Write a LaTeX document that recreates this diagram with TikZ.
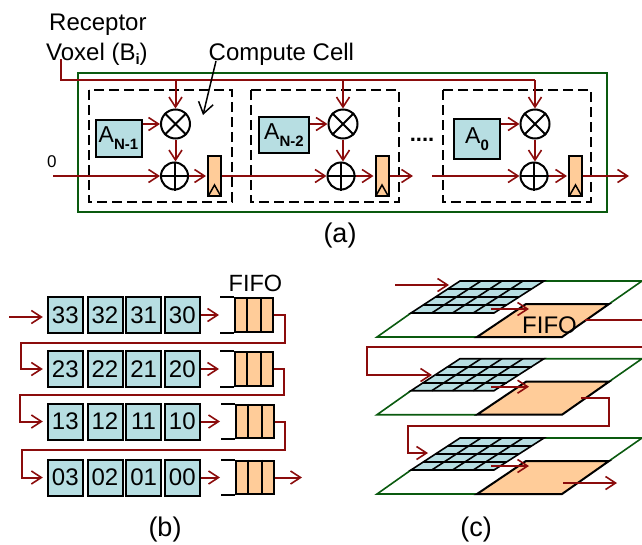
\documentclass[tikz,border=0pt]{standalone}
\usepackage{fontspec}
\setmainfont{Liberation Sans}
\usetikzlibrary{arrows.meta,calc}
\definecolor{wirered}{RGB}{139,12,12}
\definecolor{framegreen}{RGB}{10,90,15}
\definecolor{cellblue}{RGB}{183,222,226}
\definecolor{regorange}{RGB}{255,204,153}
\newcommand{\fs}[1]{\fontsize{#1}{#1}\selectfont}
\tikzset{
  wire/.style={draw=wirered,line width=2pt},
  arr/.style={wire,-{Straight Barb[length=10pt,width=13pt,line width=1.6pt]}},
  gapend/.style={shorten >=4pt},
  outerframe/.style={draw=framegreen,line width=2pt},
  cellframe/.style={draw=black,line width=2pt,dash pattern=on 10pt off 5pt},
  coef/.style={draw=black,fill=cellblue,line width=2pt,inner sep=0pt,font=\fs{23}},
  opcirc/.style={circle,draw=black,line width=2pt,fill=white,inner sep=0pt},
  regbox/.style={draw=black,fill=regorange,line width=2pt,minimum width=13pt,minimum height=40pt,inner sep=0pt},
  numbox/.style={draw=black,fill=cellblue,line width=2pt,minimum width=35pt,minimum height=36pt,inner sep=0pt,font=\fs{24}},
  fifobox/.style={draw=black,fill=regorange,line width=2pt,minimum width=38pt,minimum height=33.5pt,inner sep=0pt},
  lbl/.style={inner sep=0pt,anchor=base west,font=\fs{24}},
  captxt/.style={inner sep=0pt,font=\fs{27}},
  sheet/.style={draw=framegreen,line width=1.6pt},
  blk/.style={draw=black,line width=2pt}
}
\begin{document}
\begin{tikzpicture}[x=1pt,y=-1pt]
\useasboundingbox (0,0) rectangle (642,544);
% ---------- (a)
\draw[outerframe] (77.5,73) rectangle (607,212);
\draw[cellframe] (89,90) rectangle (232,202);
\draw[cellframe] (251,90) rectangle (399,202);
\draw[cellframe] (443,90) rectangle (591,202);
\node[lbl] (rec) at (49,30) {Receptor};
\node[lbl] (vox) at (46,60) {Voxel (B\raisebox{-4pt}{\fs{15}\bfseries i})};
\node[lbl] (cc) at (208.5,60) {Compute Cell};
\node[inner sep=0pt,anchor=base west,font=\fs{17}] (zero) at (47,167) {0};
\node[captxt] (capa) at (340,236) {(a)};
\node[inner sep=0pt,font=\fs{22}\bfseries] (dots) at (422,140) {....};
\node[coef,minimum width=46pt,minimum height=37pt] (A1) at (118.5,138.5) {A\raisebox{-7pt}{\fs{15}\bfseries N-1}};
\node[coef,minimum width=50pt,minimum height=36pt] (A2) at (284,135) {A\raisebox{-7pt}{\fs{15}\bfseries N-2}};
\node[coef,minimum width=46pt,minimum height=40pt] (A3) at (477,139) {A\raisebox{-7pt}{\fs{15}\bfseries 0}};
\node[opcirc,minimum size=29pt] (m1) at (175.5,124) {};
\node[opcirc,minimum size=29pt] (m2) at (343,124) {};
\node[opcirc,minimum size=29pt] (m3) at (535,124) {};
\node[opcirc,minimum size=27pt] (s1) at (174.5,176) {};
\node[opcirc,minimum size=27pt] (s2) at (341,176) {};
\node[opcirc,minimum size=27pt] (s3) at (534,176) {};
\node[regbox] (r1) at (214.5,175.5) {};
\node[regbox] (r2) at (382,175.5) {};
\node[regbox] (r3) at (575.5,175.5) {};
\foreach \n in {m1,m2,m3}{
  \draw[blk] (\n.north west) -- (\n.south east) (\n.north east) -- (\n.south west);}
\foreach \n in {s1,s2,s3}{
  \draw[blk] (\n.north) -- (\n.south) (\n.west) -- (\n.east);}
\foreach \n in {r1,r2,r3}{
  \draw[blk,line width=1.5pt] ($(\n.south west)+(1,0)$) -- ($(\n.south)+(0,-11.5)$) -- ($(\n.south east)+(-1,0)$);}
\coordinate (bstart) at (61,59);
\coordinate (bus) at (61,80);
\draw[wire] (bstart) -- (bus) -- (bus -| m3.north);
\foreach \n in {m1,m2,m3}{\draw[arr] (bus -| \n.north) -- (\n.north);}
\foreach \a/\n/\s in {A1/m1/s1,A2/m2/s2,A3/m3/s3}{
  \draw[arr] (\a.east |- \n.west) -- (\n.west);
  \draw[arr] (\n.south) -- (\n.south |- \s.north);
}
\foreach \s/\r in {s1/r1,s2/r2,s3/r3}{\draw[arr,shorten >=1pt] (\s.east) -- (\s.east -| \r.west);}
\coordinate (in0) at (53,176);
\coordinate (o2) at (413,176);
\coordinate (i3) at (432,176);
\coordinate (o3) at (629,176);
\draw[arr] (in0) -- (s1.west);
\draw[arr] (r1.east |- s1.east) -- (s2.west);
\draw[arr] (r2.east |- o2) -- (o2);
\draw[arr] (i3) -- (s3.west);
\draw[arr] (r3.east |- o3) -- (o3);
\coordinate (ccfrom) at (216,61);
\coordinate (ccto) at (203,115);
\draw[black,line width=1.5pt,-{Straight Barb[length=11pt,width=15pt,line width=1.5pt]}] (ccfrom) -- (ccto);
% ---------- (b)
\node[inner sep=0pt,anchor=base west,font=\fs{23.5}] (fifolbl) at (228.5,291) {FIFO};
\node[captxt] (capb) at (165,530) {(b)};
\foreach \r/\y/\fx in {3/315/254,2/369/254,1/421.5/255,0/477.5/255}{
  \foreach \c/\x in {3/65.3,2/105,1/143.6,0/182.3}{
    \node[numbox] (c\r\c) at (\x,\y) {\r\c};
  }
  \node[fifobox] (f\r) at (\fx,\y) {};
  \draw[blk] (f\r.north west) -- ++(-14,0) (f\r.south west) -- ++(-14,0);
  \draw[blk] ($(f\r.north west)!1/3!(f\r.north east)$) -- ($(f\r.south west)!1/3!(f\r.south east)$);
  \draw[blk] ($(f\r.north west)!2/3!(f\r.north east)$) -- ($(f\r.south west)!2/3!(f\r.south east)$);
  \coordinate (mouth\r) at ($(f\r.west)+(-15,0)$);
  \draw[arr] (c\r0.east) -- (mouth\r);
}
\coordinate (inb) at (9,317);
\draw[arr,gapend] (inb) -- (inb -| c33.west);
\coordinate (t3r) at (285,343);
\coordinate (t3l) at (21,343);
\coordinate (t2r) at (284,395);
\coordinate (t2l) at (20,395);
\coordinate (t1r) at (285,450);
\coordinate (t1l) at (22,450);
\draw[arr,gapend] (f3.east) -| (t3r) -- (t3l) |- (c23.west);
\draw[arr,gapend] (f2.east) -| (t2r) -- (t2l) |- (c13.west);
\draw[arr,gapend] (f1.east) -| (t1r) -- (t1l) |- (c03.west);
\coordinate (outb) at (302,477.5);
\draw[arr] (f0.east) -- (outb);
% ---------- (c)
\foreach \k/\d in {1/0,2/77.7,3/157}{
  \begin{scope}[shift={(0,\d)}]
    \coordinate (gtl\k) at (460,281);
    \coordinate (gtr\k) at (544,281);
    \coordinate (gbr\k) at (494,313);
    \coordinate (gbl\k) at (411,313);
    \coordinate (ftl\k) at (526,304);
    \coordinate (ftr\k) at (609,304);
    \coordinate (fbr\k) at (562,337);
    \coordinate (fbl\k) at (477,337);
    \coordinate (str\k) at (642,281);
    \coordinate (sbl\k) at (377,337);
  \end{scope}
  \draw[sheet] (gtr\k) -- (str\k) -- (ftr\k);
  \draw[sheet] (fbl\k) -- (sbl\k) -- (gbl\k);
  \draw[blk,fill=regorange] (ftl\k) -- (ftr\k) -- (fbr\k) -- (fbl\k) -- cycle;
  \draw[blk,line width=1.6pt,fill=cellblue] (gtl\k) -- (gtr\k) -- (gbr\k) -- (gbl\k) -- cycle;
  \foreach \t in {0.25,0.5,0.75}{
    \draw[blk,line width=1.6pt] ($(gtl\k)!\t!(gtr\k)$) -- ($(gbl\k)!\t!(gbr\k)$);
    \draw[blk,line width=1.6pt] ($(gtl\k)!\t!(gbl\k)$) -- ($(gtr\k)!\t!(gbr\k)$);
  }
  \coordinate (gout\k) at ($(gbr\k)+(-3,-4)$);
  \coordinate (fin\k) at ($(gout\k)+(38,0)$);
  \draw[arr] (gout\k) -- (fin\k);
}
\node[inner sep=0pt,anchor=base west,font=\fs{24}] (fifoc) at (522,333) {FIFO};
\node[captxt] (capc) at (476,530) {(c)};
\coordinate (i1) at (395,285);
\coordinate (i1e) at (449,285);
\draw[arr] (i1) -- (i1e);
\coordinate (o1) at (585,320);
\coordinate (o1r) at (642,320);
\draw[wire] (o1) -- (o1r);
\coordinate (w1r) at (642,347);
\coordinate (w1l) at (367,347);
\coordinate (w1d) at (367,375);
\coordinate (w1e) at (432,375);
\draw[arr] (w1r) -- (w1l) -- (w1d) -- (w1e);
\coordinate (o2c) at (581,398);
\coordinate (w2a) at (609,398);
\coordinate (w2b) at (609,426);
\coordinate (w2c) at (408,426);
\coordinate (w2d) at (408,453);
\coordinate (w2e) at (428,453);
\draw[arr] (o2c) -- (w2a) -- (w2b) -- (w2c) -- (w2d) -- (w2e);
\coordinate (o3c) at (563,483);
\coordinate (o3e) at (617,483);
\draw[arr] (o3c) -- (o3e);
\end{tikzpicture}
\end{document}
